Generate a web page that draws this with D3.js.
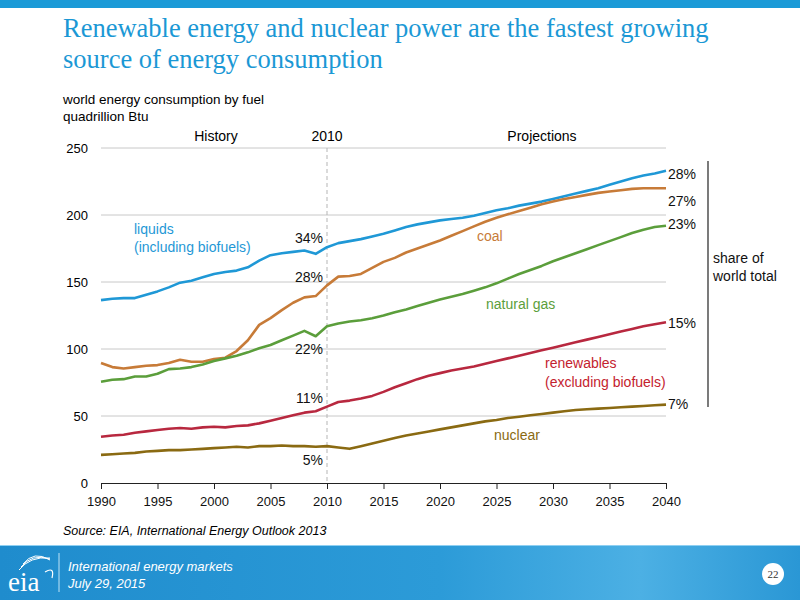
<!DOCTYPE html>
<meta charset="utf-8">
<style>
body { margin: 0; background: #fff; }
svg text { font-family: "Liberation Sans", Arial, sans-serif; }
.title { font-family: "Liberation Serif", "Times New Roman", serif !important; fill: #1b98d5; font-size: 26.5px; }
.grid line { stroke: #c8c8c8; }
.lbl { font-size: 14px; fill: #111; }
</style>
<svg id="chart" width="800" height="600"></svg>
<script src="https://d3js.org/d3.v7.min.js"></script>
<script>

var years = d3.range(1990, 2041);

var liquids = [136.5, 137.5, 138, 138, 140.5, 143, 146, 149.5, 151, 153.5,
  156, 157.5, 158.5, 161, 166, 170, 171.5, 172.5, 173.5, 171,
  176, 179, 180.5, 182, 184, 186, 188.5, 191, 193, 194.5,
  196, 197, 198, 199.5, 201.5, 203.5, 205, 207, 208.5, 210,
  212, 214, 216, 218, 220, 222.5, 225, 227.5, 229.5, 231, 233];
var coal = [89.5, 86.5, 85.5, 86.5, 87.5, 88, 89.5, 92, 90.5, 90.5,
  92.5, 93.5, 98.5, 106.5, 118, 123, 129, 134.5, 138.5, 139.5,
  147.5, 154, 154.5, 156, 160.5, 165, 168, 172, 175, 178,
  181, 184.5, 188, 191.5, 195, 198, 200.5, 203, 205.5, 208,
  210, 212, 213.5, 215, 216.5, 217.5, 218.5, 219.5, 220, 220, 220];
var gas = [75.5, 77, 77.5, 79.5, 79.5, 81.5, 85, 85.5, 86.5, 88.5,
  91, 93, 95, 97.5, 100.5, 103, 106.5, 110, 113.5, 109.5,
  117, 119, 120.5, 121.5, 123, 125, 127.5, 129.5, 132, 134.5,
  137, 139, 141, 143.5, 146, 149, 152.5, 156, 159, 162,
  165.5, 168.5, 171.5, 174.5, 177.5, 180.5, 183.5, 186.5, 189, 191, 192];
var renewables = [34.5, 35.5, 36, 37.5, 38.5, 39.5, 40.5, 41, 40.5, 41.5,
  42, 41.5, 42.5, 43, 44.5, 46.5, 48.5, 50.5, 52.5, 53.5,
  57, 60.5, 61.5, 63, 65, 68, 71.5, 74.5, 77.5, 80,
  82, 84, 85.5, 87, 89, 91, 93, 95, 97, 99,
  101, 103, 105, 107, 109, 111, 113, 115, 117, 118.5, 120];
var nuclear = [21, 21.5, 22, 22.5, 23.5, 24, 24.5, 24.5, 25, 25.5,
  26, 26.5, 27, 26.5, 27.5, 27.5, 28, 27.5, 27.5, 27,
  27.5, 26.5, 25.5, 27.5, 29.5, 31.5, 33.5, 35.5, 37, 38.5,
  40, 41.5, 43, 44.5, 46, 47, 48.5, 49.5, 50.5, 51.5,
  52.5, 53.5, 54.5, 55, 55.5, 56, 56.5, 57, 57.5, 58, 58.5];

var shares2010 = ["34%", "28%", "22%", "11%", "5%"];
var shares2040 = ["28%", "27%", "23%", "15%", "7%"];
var yTicks = [0, 50, 100, 150, 200, 250];
var xTicks = d3.range(1990, 2041, 5);

var series = [
  {name: "liquids", values: liquids, color: "#1f98d6"},
  {name: "coal", values: coal, color: "#c77b38"},
  {name: "natural gas", values: gas, color: "#5b9e3b"},
  {name: "renewables", values: renewables, color: "#b8283f"},
  {name: "nuclear", values: nuclear, color: "#8a6a12"}
];

var svg = d3.select("#chart");

// header band
svg.append("rect").attr("x", 0).attr("y", 0).attr("width", 800).attr("height", 8).attr("fill", "#1b9ad7");

svg.append("text").attr("class", "title").attr("x", 63).attr("y", 37)
  .text("Renewable energy and nuclear power are the fastest growing");
svg.append("text").attr("class", "title").attr("x", 63).attr("y", 68)
  .text("source of energy consumption");

svg.append("text").attr("x", 63).attr("y", 104).attr("font-size", 13.5).text("world energy consumption by fuel");
svg.append("text").attr("x", 63).attr("y", 121).attr("font-size", 13.5).text("quadrillion Btu");

var x = d3.scaleLinear().domain([1990, 2040]).range([101, 666]);
var y = d3.scaleLinear().domain([0, 250]).range([483, 148]);

// grid
svg.append("g").attr("class", "grid")
  .selectAll("line").data(yTicks.filter(function(d) { return d > 0; }))
  .enter().append("line")
  .attr("x1", x(1990)).attr("x2", x(2040))
  .attr("y1", function(d) { return y(d); }).attr("y2", function(d) { return y(d); });

// y labels
svg.append("g").selectAll("text").data(yTicks).enter().append("text")
  .attr("x", 88).attr("y", function(d) { return y(d) + 5; })
  .attr("text-anchor", "end").attr("font-size", 13).text(function(d) { return d; });

// x axis
var xAxis = svg.append("g").attr("transform", "translate(0," + y(0) + ")")
  .call(d3.axisBottom(x).tickValues(xTicks).tickFormat(d3.format("d")).tickSizeInner(6).tickSizeOuter(0));
xAxis.select(".domain").attr("stroke", "#222");
xAxis.selectAll(".tick line").attr("stroke", "#222").attr("y2", 6);
xAxis.selectAll("text").attr("font-size", 13).attr("fill", "#111").attr("dy", "1.05em")
  .style("font-family", "Liberation Sans, Arial, sans-serif");

// 2010 divider
svg.append("line").attr("x1", x(2010)).attr("x2", x(2010)).attr("y1", y(250)).attr("y2", y(0))
  .attr("stroke", "#b5b5b5").attr("stroke-dasharray", "4,3");

svg.append("text").attr("x", 216).attr("y", 141).attr("text-anchor", "middle").attr("font-size", 14).text("History");
svg.append("text").attr("x", x(2010)).attr("y", 141).attr("text-anchor", "middle").attr("font-size", 14).text("2010");
svg.append("text").attr("x", 542).attr("y", 141).attr("text-anchor", "middle").attr("font-size", 14).text("Projections");

// lines
var line = d3.line().x(function(d, i) { return x(years[i]); }).y(function(d) { return y(d); });
svg.append("g").selectAll("path").data(series).enter().append("path")
  .attr("d", function(s) { return line(s.values); })
  .attr("fill", "none").attr("stroke", function(s) { return s.color; })
  .attr("stroke-width", 2.6).attr("stroke-linejoin", "round");

// share labels at 2010
var leftY = [243, 282, 354, 403, 465];
svg.append("g").selectAll("text").data(shares2010).enter().append("text")
  .attr("class", "lbl").attr("x", 323).attr("y", function(d, i) { return leftY[i]; })
  .attr("text-anchor", "end").text(function(d) { return d; });

// share labels at 2040
var rightY = [179, 206, 229, 328, 409];
svg.append("g").selectAll("text").data(shares2040).enter().append("text")
  .attr("class", "lbl").attr("x", 668).attr("y", function(d, i) { return rightY[i]; })
  .text(function(d) { return d; });

svg.append("line").attr("x1", 708).attr("x2", 708).attr("y1", 161).attr("y2", 407).attr("stroke", "#222").attr("stroke-width", 1.2);
svg.append("text").attr("class", "lbl").attr("x", 713).attr("y", 263).text("share of");
svg.append("text").attr("class", "lbl").attr("x", 713).attr("y", 281).text("world total");

// series labels
function label(tx, ty, txt, col) {
  svg.append("text").attr("x", tx).attr("y", ty).attr("font-size", 14).attr("fill", col).text(txt);
}
label(134, 234, "liquids", series[0].color);
label(134, 252, "(including biofuels)", series[0].color);
label(477, 241, "coal", series[1].color);
label(486, 309, "natural gas", series[2].color);
label(545, 368, "renewables", "#c4222e");
label(545, 387, "(excluding biofuels)", "#c4222e");
label(494, 440, "nuclear", series[4].color);

svg.append("text").attr("x", 63).attr("y", 535).attr("font-size", 12.5).attr("font-style", "italic")
  .text("Source:  EIA, International Energy Outlook 2013");

// footer
var defs = svg.append("defs");
var grad = defs.append("linearGradient").attr("id", "foot").attr("x1", 0).attr("x2", 1).attr("y1", 0).attr("y2", 0);
grad.append("stop").attr("offset", "0%").attr("stop-color", "#1f8ccd");
grad.append("stop").attr("offset", "55%").attr("stop-color", "#2c9bd8");
grad.append("stop").attr("offset", "80%").attr("stop-color", "#4cb0e4");
grad.append("stop").attr("offset", "100%").attr("stop-color", "#2a97d5");
svg.append("rect").attr("x", 0).attr("y", 545).attr("width", 800).attr("height", 55).attr("fill", "url(#foot)");
svg.append("line").attr("x1", 0).attr("x2", 800).attr("y1", 545.5).attr("y2", 545.5).attr("stroke", "#8fd0f2");

svg.append("text").attr("x", 8).attr("y", 591).attr("font-size", 27).attr("fill", "#fff")
  .style("font-family", "Liberation Serif, serif").text("eia");
[0, 1, 2].forEach(function(k) {
  svg.append("path").attr("d", "M" + (19 + k * 2) + "," + (570 - k * 3) + " Q" + (30 + k * 2) + "," + (556 - k * 3) + " 50," + (558 + k * 1))
    .attr("fill", "none").attr("stroke", "#fff").attr("stroke-width", 1);
});
svg.append("path").attr("d", "M45,572 Q55,566 52,578").attr("fill", "none").attr("stroke", "#fff").attr("stroke-width", 1.2);
svg.append("line").attr("x1", 59).attr("x2", 59).attr("y1", 553).attr("y2", 592).attr("stroke", "#bfe3f6");

svg.append("text").attr("x", 68).attr("y", 571).attr("font-size", 13).attr("font-style", "italic").attr("fill", "#fff")
  .text("International energy markets");
svg.append("text").attr("x", 68).attr("y", 588).attr("font-size", 13).attr("font-style", "italic").attr("fill", "#fff")
  .text("July 29, 2015");

svg.append("circle").attr("cx", 773).attr("cy", 574).attr("r", 11).attr("fill", "#fff");
svg.append("text").attr("x", 773).attr("y", 578).attr("text-anchor", "middle").attr("font-size", 11).attr("fill", "#333")
  .style("font-family", "Liberation Serif, serif").text("22");
</script>
